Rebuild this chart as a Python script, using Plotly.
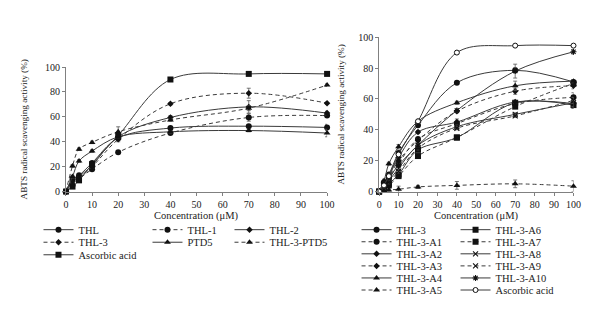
import plotly.graph_objects as go

conc = [0, 2.5, 5, 10, 20, 40, 70, 100]
x_ticks = [0, 10, 20, 30, 40, 50, 60, 70, 80, 90, 100]
y_ticks = [0, 20, 40, 60, 80, 100]

# ---- left panel data ----
thl = [0, 10, 13, 23, 43, 51, 52.5, 51.5]
thl_1 = [0, 5, 10, 18, 31.5, 47, 59.5, 61]
thl_2 = [0, 8, 12, 21, 44, 59.5, 68, 63]
thl_3 = [0, 9, 11, 20, 42, 70.5, 79, 71]
ptd5 = [0, 12, 24.5, 32.5, 44, 48, 49, 47]
thl_3_ptd5 = [0, 20.5, 34, 39.5, 48, 57.5, 67, 85.5]
asc_left = [0, 4, 9, 22, 45, 90, 94.5, 94.5]

err_thl = [0, 1, 1, 1, 2, 1, 1, 2.5]
err_thl_1 = [0, 1, 1, 1, 1, 1, 3, 1.5]
err_thl_2 = [0, 1, 1, 1, 2, 1.5, 5, 1.5]
err_thl_3 = [0, 1, 1, 1, 2, 1, 4, 1]
err_ptd5 = [0, 1, 1, 1, 1, 1, 1, 3]
err_thl_3_ptd5 = [0, 1, 1, 1, 4, 1, 2, 1]
err_asc_left = [0, 0.5, 0.5, 0.5, 1, 1, 1, 1]

# ---- right panel data ----
r_thl_3 = [0, 6, 11, 25, 43, 70.5, 78.5, 71]
a1 = [0, 4, 8, 18, 34, 44, 57, 61]
a2 = [0, 5, 10, 22, 38.5, 45, 58, 57]
a3 = [0, 4, 9, 20, 33, 52, 65, 68.5]
a4 = [0, 7, 18, 29, 45.5, 57.5, 68.5, 71.5]
a5 = [0, 0.5, 1, 1.5, 3, 4, 5, 3.5]
a6 = [0, 2, 5, 11, 27, 35, 57.5, 56]
a7 = [0, 2, 4, 10, 23, 35, 55, 70]
a8 = [0, 3, 7, 15, 30, 42, 50, 57.5]
a9 = [0, 3, 6, 13, 28, 41, 49, 59]
a10 = [0, 5, 9, 17, 30, 52.5, 78, 90.5]
asc_right = [0, 4, 10, 24, 45.5, 90, 94.5, 94.5]

e_r_thl_3 = [0, 1, 1, 1, 1, 1, 1.5, 1.5]
e_a1 = [0, 1, 1, 1, 1, 1, 1, 3]
e_a2 = [0, 1, 1, 1, 1, 2, 1, 2]
e_a3 = [0, 1, 1, 1, 1, 1, 2, 2]
e_a4 = [0, 1, 1, 1.5, 1, 1, 3, 1]
e_a5 = [0, 1, 1, 2, 1, 2.5, 2.5, 3.5]
e_a6 = [0, 1, 1, 1, 1, 1, 1.5, 2]
e_a7 = [0, 1, 1, 1, 1, 1, 1, 1.5]
e_a8 = [0, 1, 1, 1, 1, 1, 1, 3.5]
e_a9 = [0, 1, 1, 1, 1, 1, 1, 2]
e_a10 = [0, 1, 1, 1, 1, 1, 4.5, 1.5]
e_asc_right = [0, 0.5, 0.5, 0.5, 0.5, 0.5, 0.5, 0.5]

x_title = "Concentration (μM)"
y_title = "ABTS radical scavenging activity (%)"

LINE = "#3a3a3a"
MK = "#111111"
FONT = "Liberation Serif"

fig = go.Figure()


def add(name, y, err, dash, symbol, size, xa, ya, legend, lw=None, open_marker=False):
    if symbol in ("x-thin", "asterisk"):
        marker = dict(symbol=symbol, size=size, color=MK, line=dict(color=MK, width=1.1))
    elif open_marker:
        marker = dict(symbol=symbol, size=size, color="white", line=dict(color=MK, width=1))
    else:
        marker = dict(symbol=symbol, size=size, color=MK, line=dict(color=MK, width=0))
    fig.add_trace(go.Scatter(
        x=conc, y=y, name=name, mode="lines+markers",
        line=dict(color=LINE, width=1, dash=dash, shape="spline", smoothing=1.0),
        marker=marker,
        error_y=dict(type="data", array=err, color="#555555", thickness=0.8, width=2),
        xaxis=xa, yaxis=ya, legend=legend, cliponaxis=False,
        legendwidth=lw,
    ))


DASH = "4px,3px"
# left panel
add("THL", thl, err_thl, "solid", "circle", 6, "x", "y", "legend", 64)
add("THL-1", thl_1, err_thl_1, DASH, "circle", 6, "x", "y", "legend", 37)
add("THL-2", thl_2, err_thl_2, "solid", "diamond", 5, "x", "y", "legend", 80)
add("THL-3", thl_3, err_thl_3, DASH, "diamond", 5, "x", "y", "legend2", 64)
add("PTD5", ptd5, err_ptd5, "solid", "triangle-up", 6, "x", "y", "legend2", 37)
add("THL-3-PTD5", thl_3_ptd5, err_thl_3_ptd5, DASH, "triangle-up", 6, "x", "y", "legend2", 80)
add("Ascorbic acid", asc_left, err_asc_left, "solid", "square", 6, "x", "y", "legend3", 80)

# right panel
RW = 54
add("THL-3", r_thl_3, e_r_thl_3, "solid", "circle", 6, "x2", "y2", "legend4", RW)
add("THL-3-A6", a6, e_a6, "solid", "square", 6, "x2", "y2", "legend4", 90)
add("THL-3-A1", a1, e_a1, DASH, "circle", 6, "x2", "y2", "legend5", RW)
add("THL-3-A7", a7, e_a7, DASH, "square", 6, "x2", "y2", "legend5", 90)
add("THL-3-A2", a2, e_a2, "solid", "diamond", 5, "x2", "y2", "legend6", RW)
add("THL-3-A8", a8, e_a8, "solid", "x-thin", 5, "x2", "y2", "legend6", 90)
add("THL-3-A3", a3, e_a3, DASH, "diamond", 5, "x2", "y2", "legend7", RW)
add("THL-3-A9", a9, e_a9, DASH, "x-thin", 5, "x2", "y2", "legend7", 90)
add("THL-3-A4", a4, e_a4, "solid", "triangle-up", 6, "x2", "y2", "legend8", RW)
add("THL-3-A10", a10, e_a10, "solid", "asterisk", 5, "x2", "y2", "legend8", 90)
add("THL-3-A5", a5, e_a5, DASH, "triangle-up", 6, "x2", "y2", "legend9", RW)
add("Ascorbic acid", asc_right, e_asc_right, "solid", "circle", 5, "x2", "y2", "legend9", 90, open_marker=True)

H = 316.0
W = 600.0

axis_common = dict(
    showline=True, linecolor="#808080", linewidth=1, ticks="outside", ticklen=3,
    tickcolor="#808080", tickwidth=1, showgrid=False, zeroline=False,
    tickfont=dict(family=FONT, size=10, color="#222"), range=[0, 100],
)

fig.update_layout(
    width=600, height=316, margin=dict(l=0, r=0, t=0, b=0),
    paper_bgcolor="white", plot_bgcolor="white",
    font=dict(family=FONT, size=10, color="#222"),
    xaxis=dict(domain=[56 / W, 322 / W], anchor="y", tickvals=x_ticks, **axis_common),
    yaxis=dict(domain=[(H - 185) / H, (H - 56) / H], anchor="x", tickvals=y_ticks,
               title=dict(text=y_title, font=dict(family=FONT, size=9.2), standoff=15),
               **axis_common),
    xaxis2=dict(domain=[375 / W, 573 / W], anchor="y2", tickvals=x_ticks, **axis_common),
    yaxis2=dict(domain=[(H - 185) / H, (H - 25) / H], anchor="x2", tickvals=y_ticks,
                title=dict(text=y_title, font=dict(family=FONT, size=9.2), standoff=11),
                **axis_common),
    annotations=[
        dict(text=x_title, xref="paper", yref="paper", x=189 / W, y=(H - 210) / H,
             xanchor="center", yanchor="middle", showarrow=False,
             font=dict(family=FONT, size=10.5, color="#222")),
        dict(text=x_title, xref="paper", yref="paper", x=474 / W, y=(H - 210) / H,
             xanchor="center", yanchor="middle", showarrow=False,
             font=dict(family=FONT, size=10.5, color="#222")),
    ],
)

leg_common = dict(orientation="h", xanchor="left", yanchor="middle", bgcolor="rgba(0,0,0,0)",
                  font=dict(family=FONT, size=10.5, color="#222"), traceorder="normal",
                  itemwidth=30, borderwidth=0)

left_rows = [224.5, 237.5, 250.5]
right_rows = [224.5, 237, 249.5, 262, 274.5, 287]
legs = {}
for i, yy in enumerate(left_rows):
    key = "legend" if i == 0 else f"legend{i + 1}"
    legs[key] = dict(x=28 / W, y=(H - yy) / H, **leg_common)
for j, yy in enumerate(right_rows):
    key = f"legend{j + 4}"
    legs[key] = dict(x=352 / W, y=(H - yy) / H, **leg_common)
fig.update_layout(**legs)

fig.write_html("out.html")
